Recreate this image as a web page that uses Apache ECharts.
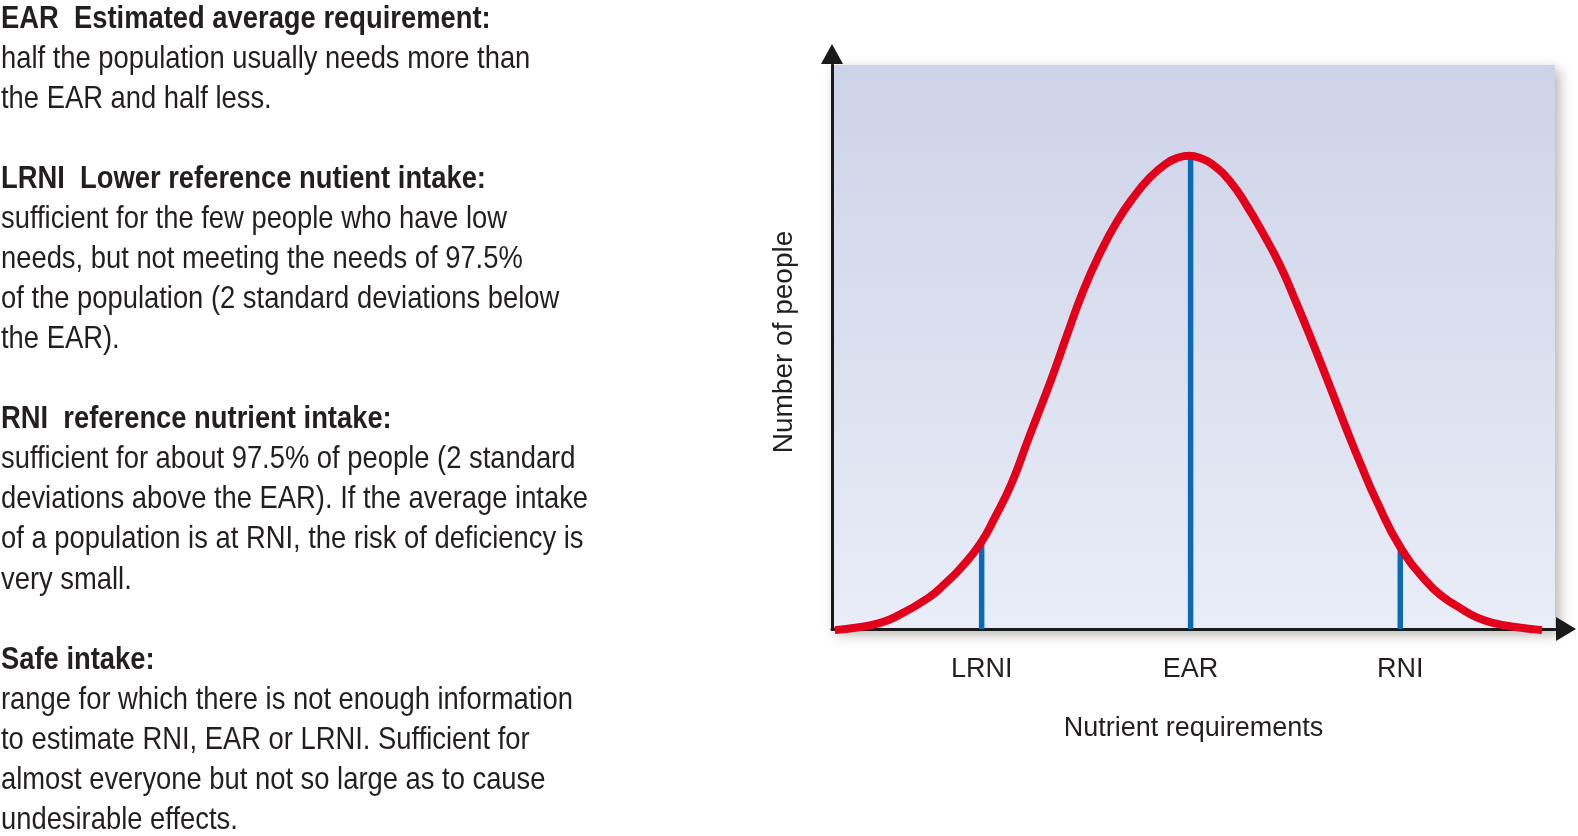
<!DOCTYPE html>
<html>
<head>
<meta charset="utf-8">
<script src="https://cdn.jsdelivr.net/npm/echarts@6/dist/echarts.min.js"></script>
<style>
  html, body { margin: 0; padding: 0; background: #ffffff; }
  #chart { width: 1578px; height: 836px; }
</style>
</head>
<body>
<div id="chart"></div>
<script>
// ---- data ----
// Distribution curve (x: nutrient requirement, arbitrary units 0-100; y: number of people, arbitrary units 0-100)
const curveX = [0.4, 4.0, 6.4, 8.7, 13.3, 15.6, 17.8, 20.5, 22.5, 24.8, 27.1, 30.2, 32.5, 34.7, 37.1, 39.4, 41.6, 44.0, 46.3, 47.7, 49.4, 50.9, 52.7, 55.1, 57.4, 59.6, 62.0, 64.3, 66.5, 68.9, 71.2, 73.0, 75.4, 78.6, 82.3, 84.5, 86.9, 89.1, 91.4, 94.5, 98.2];
const curveY = [-0.2, 0.35, 1.0, 2.1, 5.5, 8.0, 10.8, 15.1, 19.7, 25.7, 33.5, 43.8, 52.1, 59.8, 66.7, 72.2, 76.4, 80.1, 82.6, 83.5, 83.9, 83.5, 82.3, 79.3, 75.0, 70.2, 64.4, 57.6, 50.7, 42.9, 35.3, 29.6, 22.5, 14.5, 8.3, 5.7, 3.7, 2.1, 1.1, 0.35, -0.2];

// Reference markers (vertical lines + x tick labels)
const refNames = ['LRNI', 'EAR', 'RNI'];
const refX = [20.7, 49.6, 78.6];
const refTop = [15.6, 83.9, 14.4];

const xAxisTitle = 'Nutrient requirements';
const yAxisTitle = 'Number of people';

// Explanatory notes (left side)
const noteTitles = [
  'EAR  Estimated average requirement:',
  'LRNI  Lower reference nutient intake:',
  'RNI  reference nutrient intake:',
  'Safe intake:'
];
const noteBodies = [
  ['half the population usually needs more than', 'the EAR and half less.'],
  ['sufficient for the few people who have low', 'needs, but not meeting the needs of 97.5%', 'of the population (2 standard deviations below', 'the EAR).'],
  ['sufficient for about 97.5% of people (2 standard', 'deviations above the EAR). If the average intake', 'of a population is at RNI, the risk of deficiency is', 'very small.'],
  ['range for which there is not enough information', 'to estimate RNI, EAR or LRNI. Sufficient for', 'almost everyone but not so large as to cause', 'undesirable effects.']
];

// ---- build chart ----
const chart = echarts.init(document.getElementById('chart'), null, { renderer: 'canvas' });

const TEXT_COLOR = '#231f20';
const LINE_H = 40.05;
const noteGraphics = [];
let lineIdx = 0;
noteTitles.forEach((t, i) => {
  const rows = [{ text: t, bold: true }].concat(noteBodies[i].map(s => ({ text: s, bold: false })));
  rows.forEach(r => {
    noteGraphics.push({
      type: 'text',
      x: 1,
      y: 19 + lineIdx * LINE_H,
      scaleX: 0.855,
      style: {
        text: r.text,
        fill: TEXT_COLOR,
        fontFamily: 'Liberation Sans',
        fontSize: 32,
        fontWeight: r.bold ? 'bold' : 'normal',
        textAlign: 'left',
        textVerticalAlign: 'middle'
      }
    });
    lineIdx++;
  });
  lineIdx++; // blank line between blocks
});

const curveData = curveX.map((x, i) => [x, curveY[i]]);

const refSeries = refNames.map((n, i) => ({
  type: 'line',
  name: n,
  data: [[refX[i], 0], [refX[i], refTop[i]]],
  symbol: 'none',
  clip: false,
  z: 3,
  lineStyle: { color: '#0a6ab4', width: 5.5, cap: 'butt' },
  silent: true
}));

const option = {
  animation: false,
  backgroundColor: '#ffffff',
  textStyle: { fontFamily: 'Liberation Sans' },
  grid: {
    left: 832, right: 23, top: 65, bottom: 207,
    outerBoundsMode: 'none',
    containLabel: false,
    show: true,
    borderWidth: 0,
    backgroundColor: new echarts.graphic.LinearGradient(0, 0, 0, 1, [
      { offset: 0, color: '#cdd3e8' },
      { offset: 1, color: '#e9edf7' }
    ]),
    shadowColor: 'rgba(90,80,70,0.45)',
    shadowBlur: 12,
    shadowOffsetX: 4,
    shadowOffsetY: 5
  },
  xAxis: {
    type: 'value',
    min: 0, max: 100,
    name: xAxisTitle,
    nameLocation: 'middle',
    nameGap: 86,
    nameTextStyle: { fontSize: 27, color: TEXT_COLOR, fontFamily: 'Liberation Sans' },
    axisLine: {
      show: true, onZero: false,
      lineStyle: { color: '#1a1a1a', width: 3 },
      symbol: ['none', 'triangle'],
      symbolSize: [24, 20],
      symbolOffset: [0, 11]
    },
    axisTick: { show: false },
    splitLine: { show: false },
    axisLabel: {
      show: true,
      customValues: refX,
      formatter: v => { const k = refX.indexOf(v); return k >= 0 ? refNames[k] : ''; },
      fontSize: 27,
      color: TEXT_COLOR,
      fontFamily: 'Liberation Sans',
      margin: 27
    }
  },
  yAxis: {
    type: 'value',
    min: 0, max: 100,
    name: yAxisTitle,
    nameLocation: 'middle',
    nameRotate: 90,
    nameGap: 34,
    nameTextStyle: { fontSize: 28, color: TEXT_COLOR, fontFamily: 'Liberation Sans', padding: [0, 0, 0, 10] },
    axisLine: {
      show: true, onZero: false,
      lineStyle: { color: '#1a1a1a', width: 3 },
      symbol: ['none', 'triangle'],
      symbolSize: [22, 20],
      symbolOffset: [0, 11]
    },
    axisTick: { show: false },
    splitLine: { show: false },
    axisLabel: { show: false }
  },
  graphic: noteGraphics,
  series: refSeries.concat([{
    type: 'line',
    name: 'Distribution',
    data: curveData,
    smooth: 0.5,
    symbol: 'none',
    clip: false,
    z: 5,
    lineStyle: { color: '#e2001a', width: 8, cap: 'butt', join: 'round' },
    silent: true
  }])
};

chart.setOption(option);
</script>
</body>
</html>
